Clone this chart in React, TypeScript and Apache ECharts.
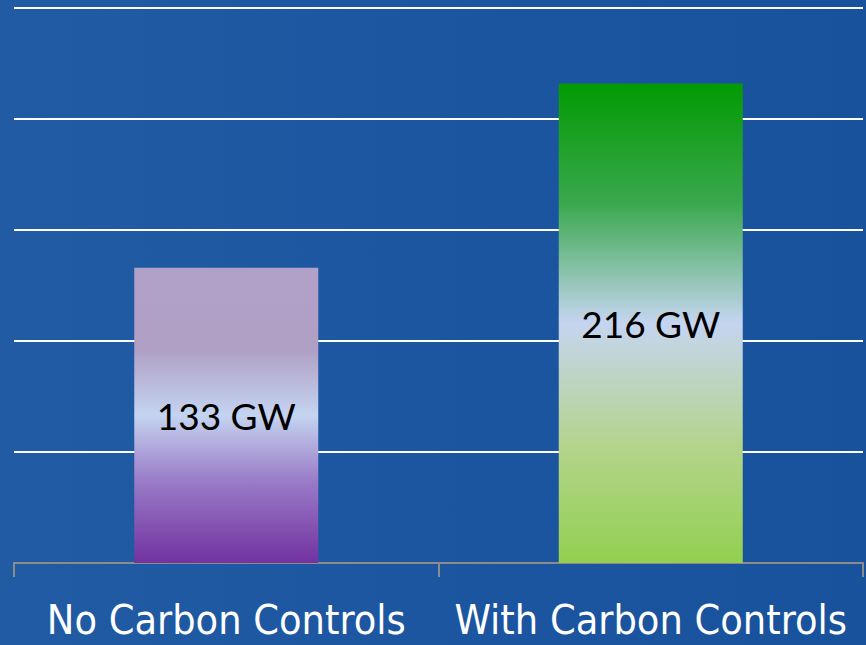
import React, { useEffect, useRef } from "react";
import * as echarts from "echarts";

const categories = ["No Carbon Controls", "With Carbon Controls"];
const values = [133, 216];
const valueLabels = ["133 GW", "216 GW"];
const gradients = [
  [
    { offset: 0, color: "#b1a1c8" },
    { offset: 0.28, color: "#b0a0c6" },
    { offset: 0.5, color: "#c4d4f0" },
    { offset: 0.72, color: "#9a7cc8" },
    { offset: 1, color: "#7232a0" },
  ],
  [
    { offset: 0, color: "#029a02" },
    { offset: 0.25, color: "#3aa84e" },
    { offset: 0.5, color: "#c5d5f0" },
    { offset: 0.75, color: "#b4d48e" },
    { offset: 1, color: "#92d050" },
  ],
];

export default function App() {
  const ref = useRef<HTMLDivElement>(null);
  useEffect(() => {
    const chart = echarts.init(ref.current!, null, { renderer: "svg" });
    chart.setOption({
      animation: false,
      backgroundColor: new echarts.graphic.LinearGradient(0, 0, 1, 0, [
        { offset: 0, color: "#205ba4" },
        { offset: 1, color: "#18519c" },
      ]),
      grid: {
        left: 14,
        right: 3,
        top: 8,
        bottom: 82,
        containLabel: false,
        outerBoundsMode: "none",
      },
      xAxis: {
        type: "category",
        data: categories,
        axisLine: { lineStyle: { color: "#8c8c8c", width: 2 } },
        axisTick: { show: true, length: 14, lineStyle: { color: "#8c8c8c", width: 2 } },
        axisLabel: {
          color: "#ffffff",
          fontFamily: "'DejaVu Sans Condensed', 'DejaVu Sans'",
          fontSize: 41,
          lineHeight: 34,
          margin: 40,
          interval: 0,
        },
      },
      yAxis: {
        type: "value",
        min: 0,
        max: 250,
        interval: 50,
        axisLabel: { show: false },
        axisLine: { show: false },
        axisTick: { show: false },
        splitLine: { lineStyle: { color: "#ffffff", width: 2 } },
      },
      series: [
        {
          type: "bar",
          barWidth: 184,
          data: values.map((v, i) => ({
            value: v,
            itemStyle: {
              color: new echarts.graphic.LinearGradient(0, 0, 0, 1, gradients[i]),
            },
            label: {
              show: true,
              position: "inside",
              formatter: valueLabels[i],
              color: "#000000",
              fontFamily: "Lato, 'Open Sans', sans-serif",
              fontSize: 37,
            },
          })),
        },
      ],
    });
    return () => chart.dispose();
  }, []);
  return (
    <div
      ref={ref}
      style={{ position: "fixed", left: 0, top: 0, width: 866, height: 645 }}
    />
  );
}
